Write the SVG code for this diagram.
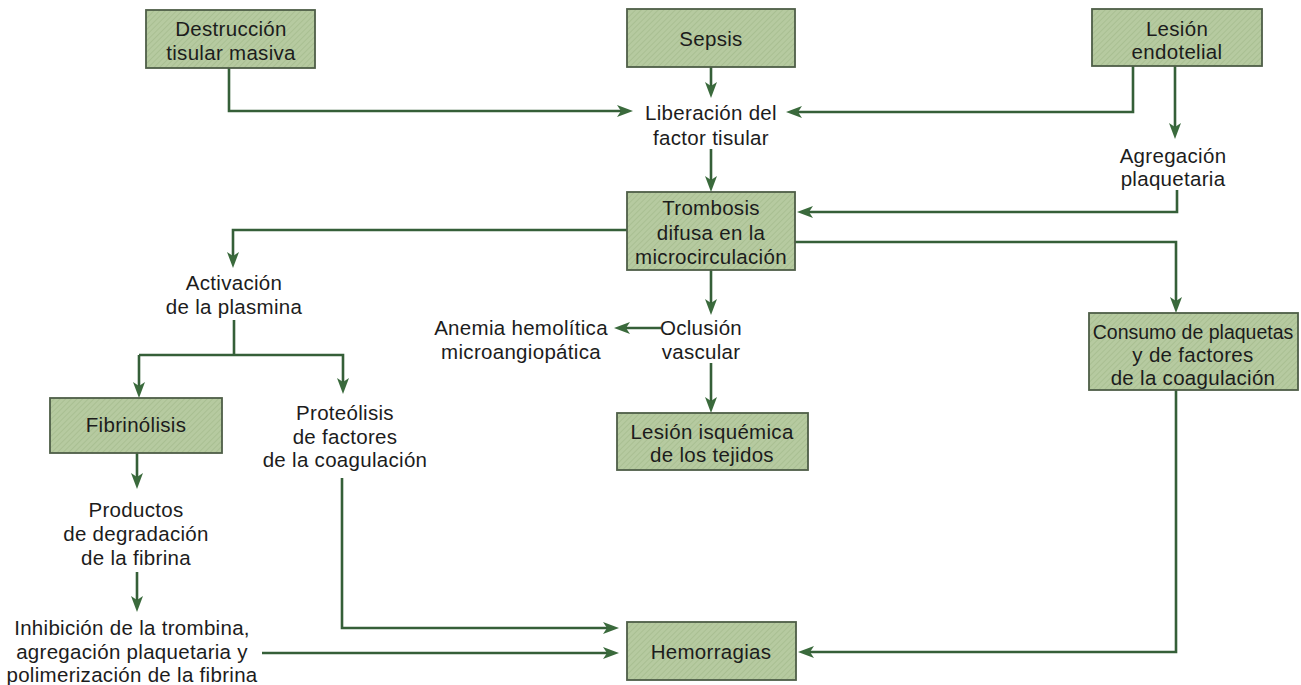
<svg xmlns="http://www.w3.org/2000/svg" width="1301" height="685" viewBox="0 0 1301 685">
  <defs>
    <pattern id="hatch" width="4" height="4" patternUnits="userSpaceOnUse" patternTransform="rotate(45)">
      <rect width="4" height="4" fill="#b6caa0"/>
      <line x1="0" y1="0" x2="0" y2="4" stroke="#a5bb8e" stroke-width="1.5"/>
    </pattern>
    <marker id="arrow" viewBox="0 0 16 12" refX="8" refY="6" markerWidth="16" markerHeight="12" markerUnits="userSpaceOnUse" orient="auto">
      <path d="M0,0 L16,6 L0,12 L4,6 Z" fill="#3a6a3c"/>
    </marker>
    <style>
      .box { fill: url(#hatch); stroke: #4e5e47; stroke-width: 1.8; }
      .t { font-family: "Liberation Sans", Arial, sans-serif; font-size: 20.5px; letter-spacing: 0.3px; fill: #1c1c1c; text-anchor: middle; }
      .s { font-size: 19.5px; letter-spacing: 0; }
      .c { fill: none; stroke: #355f38; stroke-width: 2.6; stroke-linejoin: miter; }
      .a { marker-end: url(#arrow); }
    </style>
  </defs>
  <rect width="1301" height="685" fill="#ffffff"/>

  <!-- connectors -->
  <g id="connectors">
    <path class="c a" d="M229,68 V111 H625"/>
    <path class="c a" d="M711,67 V90"/>
    <path class="c a" d="M1133,66 V112 H794"/>
    <path class="c a" d="M1175,66 V131"/>
    <path class="c a" d="M711,149 V184"/>
    <path class="c a" d="M1177,190 V212 H805"/>
    <path class="c a" d="M627,230 H233 V260"/>
    <path class="c a" d="M795,242 H1176 V305"/>
    <path class="c a" d="M711,270 V307"/>
    <path class="c a" d="M661,328 H622"/>
    <path class="c a" d="M711,363 V405"/>
    <path class="c" d="M234,320 V355"/>
    <path class="c a" d="M139,355 H343 V386"/>
    <path class="c a" d="M139,355 V390"/>
    <path class="c a" d="M137,453 V481"/>
    <path class="c a" d="M137,572 V604"/>
    <path class="c a" d="M342,478 V628 H611"/>
    <path class="c a" d="M262,653 H611"/>
    <path class="c a" d="M1176,390 V652 H806"/>
  </g>

  <g id="destruccion">
    <rect class="box" x="146" y="10" width="169" height="58"/>
    <text class="t" x="231" y="36">Destrucción</text>
    <text class="t" x="231" y="60">tisular masiva</text>
  </g>
  <g id="sepsis">
    <rect class="box" x="627" y="9" width="168" height="58"/>
    <text class="t" x="711" y="46">Sepsis</text>
  </g>
  <g id="lesion-endotelial">
    <rect class="box" x="1092" y="9" width="170" height="57"/>
    <text class="t" x="1177" y="36">Lesión</text>
    <text class="t" x="1177" y="59">endotelial</text>
  </g>
  <g id="liberacion">
    <text class="t" x="711" y="120">Liberación del</text>
    <text class="t" x="711" y="145">factor tisular</text>
  </g>
  <g id="agregacion">
    <text class="t" x="1173" y="163">Agregación</text>
    <text class="t" x="1173" y="186">plaquetaria</text>
  </g>
  <g id="trombosis">
    <rect class="box" x="627" y="192" width="168" height="78"/>
    <text class="t" x="711" y="215">Trombosis</text>
    <text class="t" x="711" y="240">difusa en la</text>
    <text class="t" x="711" y="264">microcirculación</text>
  </g>
  <g id="activacion">
    <text class="t" x="234" y="290">Activación</text>
    <text class="t" x="234" y="314">de la plasmina</text>
  </g>
  <g id="consumo">
    <rect class="box" x="1089" y="313" width="209" height="77"/>
    <text class="t s" x="1193" y="339">Consumo de plaquetas</text>
    <text class="t" x="1193" y="362">y de factores</text>
    <text class="t" x="1193" y="385">de la coagulación</text>
  </g>
  <g id="oclusion">
    <text class="t" x="701" y="335">Oclusión</text>
    <text class="t" x="701" y="359">vascular</text>
  </g>
  <g id="anemia">
    <text class="t" x="521" y="335">Anemia hemolítica</text>
    <text class="t" x="521" y="359">microangiopática</text>
  </g>
  <g id="fibrinolisis">
    <rect class="box" x="50" y="398" width="172" height="55"/>
    <text class="t" x="136" y="432">Fibrinólisis</text>
  </g>
  <g id="proteolisis">
    <text class="t" x="345" y="420">Proteólisis</text>
    <text class="t" x="345" y="444">de factores</text>
    <text class="t" x="345" y="467">de la coagulación</text>
  </g>
  <g id="lesion-isquemica">
    <rect class="box" x="617" y="413" width="191" height="57"/>
    <text class="t" x="712" y="439">Lesión isquémica</text>
    <text class="t" x="712" y="462">de los tejidos</text>
  </g>
  <g id="productos">
    <text class="t" x="136" y="517">Productos</text>
    <text class="t" x="136" y="541">de degradación</text>
    <text class="t" x="136" y="565">de la fibrina</text>
  </g>
  <g id="inhibicion">
    <text class="t" x="132" y="635">Inhibición de la trombina,</text>
    <text class="t" x="132" y="659">agregación plaquetaria y</text>
    <text class="t" x="132" y="682">polimerización de la fibrina</text>
  </g>
  <g id="hemorragias">
    <rect class="box" x="627" y="622" width="169" height="58"/>
    <text class="t" x="711" y="659">Hemorragias</text>
  </g>
</svg>
